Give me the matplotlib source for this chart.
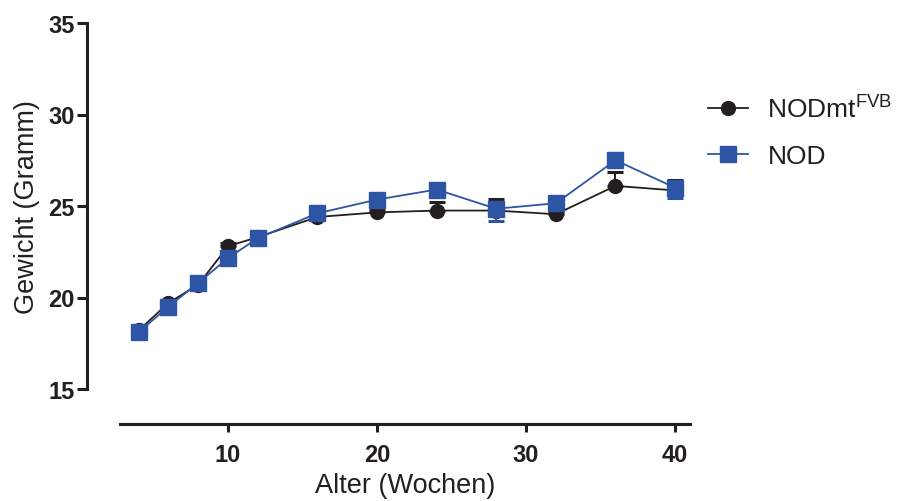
"""Body weight over age: NODmt(FVB) vs NOD mice (Prism-style line chart)."""

import matplotlib
matplotlib.use("Agg")
import matplotlib.pyplot as plt
from matplotlib.lines import Line2D

plt.rcParams["font.family"] = ["Liberation Sans", "DejaVu Sans"]
plt.rcParams["mathtext.fontset"] = "custom"
plt.rcParams["mathtext.rm"] = "Liberation Sans"

# ── Data ─────────────────────────────────────────────────
weeks = [4, 6, 8, 10, 12, 16, 20, 24, 28, 32, 36, 40]
nodmt = [18.2, 19.7, 20.7, 22.8, 23.3, 24.4, 24.65, 24.75, 24.75, 24.55, 26.1, 25.85]
nodmt_sem = [0.15, 0.15, 0.2, 0.2, 0.15, 0.2, 0.2, 0.45, 0.65, 0.2, 0.75, 0.55]
nod = [18.1, 19.5, 20.8, 22.15, 23.25, 24.6, 25.35, 25.9, 24.85, 25.15, 27.5, 26.0]
nod_sem = [0.15, 0.15, 0.15, 0.2, 0.15, 0.15, 0.2, 0.2, 0.65, 0.2, 0.2, 0.58]

x_ticks = [10, 20, 30, 40]
y_ticks = [15, 20, 25, 30, 35]

BLACK = "#231f20"
BLUE = "#2e55a5"

# ── Plot ──────────────────────────────────────────────────
fig = plt.figure(figsize=(8.99, 5.02), dpi=100)
ax = fig.add_axes([120 / 899, 1 - 390 / 502, 570 / 899, 366 / 502])

zeros = [0] * len(weeks)
# Prism-style one-sided SEM bars: upper for NODmt, lower for NOD
ax.errorbar(weeks, nodmt, yerr=[zeros, nodmt_sem], color=BLACK, lw=1.3,
            marker="o", markersize=10, capsize=5.5, capthick=2.2, elinewidth=1.5,
            zorder=3)
ax.errorbar(weeks, nod, yerr=[nod_sem, zeros], color=BLUE, lw=1.3,
            marker="s", markersize=11, capsize=5.5, capthick=2.2, elinewidth=1.5,
            zorder=4)

ax.set_xlim(2.75, 41.0)
ax.set_ylim(15, 35)
ax.set_xticks(x_ticks)
ax.set_yticks(y_ticks)

for side in ("top", "right"):
    ax.spines[side].set_visible(False)
ax.spines["left"].set_position(("outward", 24))
ax.spines["bottom"].set_position(("outward", 25))
for side in ("left", "bottom"):
    ax.spines[side].set_linewidth(2.2)
    ax.spines[side].set_color(BLACK)

ax.tick_params(axis="y", length=7.5, width=2.2, color=BLACK, pad=1,
               labelsize=17, labelcolor=BLACK)
ax.tick_params(axis="x", length=6, width=2.2, color=BLACK, pad=8,
               labelsize=17, labelcolor=BLACK)
for lbl in ax.get_xticklabels() + ax.get_yticklabels():
    lbl.set_fontweight("bold")

ax.set_xlabel("Alter (Wochen)", fontsize=19.5, color=BLACK, labelpad=4.5)
ax.set_ylabel("Gewicht (Gramm)", fontsize=19.5, color=BLACK, labelpad=6)

handles = [
    Line2D([], [], color=BLACK, lw=1.3, marker="o", markersize=10),
    Line2D([], [], color=BLUE, lw=1.3, marker="s", markersize=11),
]
labels = [r"NODmt$^{\mathrm{FVB}}$", "NOD"]
leg = fig.legend(handles, labels, loc="upper left",
                 bbox_to_anchor=(708 / 899, 1 - 95 / 502),
                 frameon=False, fontsize=19, handlelength=1.5, handletextpad=0.75,
                 borderpad=0, borderaxespad=0, labelspacing=0.85)
for t in leg.get_texts():
    t.set_color(BLACK)

fig.savefig("out.png", dpi=100)
